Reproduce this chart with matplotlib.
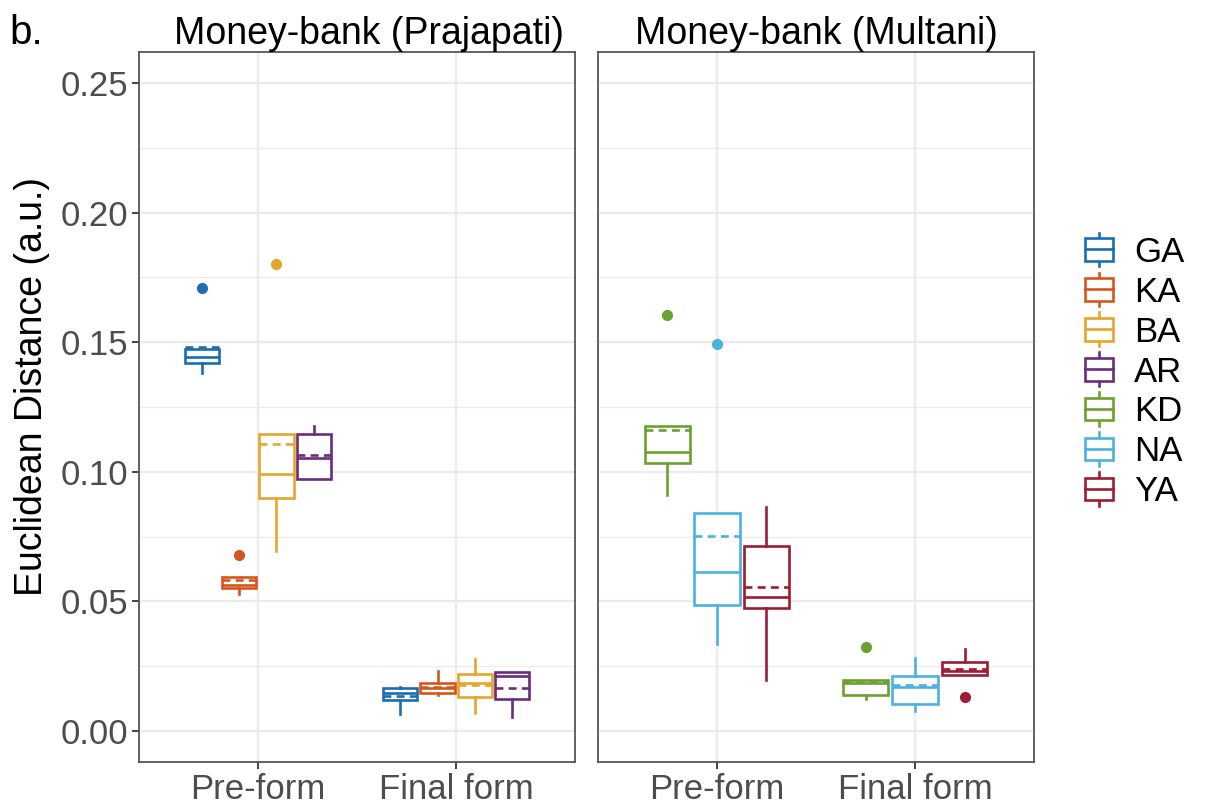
import matplotlib
matplotlib.use("Agg")
import matplotlib.pyplot as plt
from matplotlib.legend_handler import HandlerBase
from matplotlib.patches import Rectangle
from matplotlib.lines import Line2D
from matplotlib.ticker import MultipleLocator

plt.rcParams['font.family'] = ['Liberation Sans', 'DejaVu Sans']

# ---- data ----
stages = ["Pre-form", "Final form"]

left_groups = ["GA", "KA", "BA", "AR"]
right_groups = ["KD", "NA", "YA"]

colors = {
    "GA": "#1b6db3", "KA": "#d5561c", "BA": "#e4a62b", "AR": "#6b2c7e",
    "KD": "#6ca030", "NA": "#4bb2e0", "YA": "#9c1c33",
}

# (q1, median, q3, whislo, whishi, mean, outliers) per group, per stage
pre_stats = {
    "GA": (0.1418, 0.1444, 0.1473, 0.1380, 0.1473, 0.1483, [0.1711]),
    "KA": (0.0550, 0.0563, 0.0595, 0.0529, 0.0595, 0.0583, [0.0679]),
    "BA": (0.0900, 0.0990, 0.1146, 0.0696, 0.1146, 0.1106, [0.1800]),
    "AR": (0.0972, 0.1052, 0.1146, 0.0972, 0.1178, 0.1065, []),
    "KD": (0.1035, 0.1078, 0.1177, 0.0910, 0.1177, 0.1161, [0.1605]),
    "NA": (0.0486, 0.0615, 0.0840, 0.0336, 0.0840, 0.0752, [0.1492]),
    "YA": (0.0476, 0.0518, 0.0715, 0.0197, 0.0865, 0.0557, []),
}
final_stats = {
    "GA": (0.0120, 0.0147, 0.0165, 0.0066, 0.0171, 0.0135, []),
    "KA": (0.0145, 0.0166, 0.0186, 0.0139, 0.0231, 0.0170, []),
    "BA": (0.0132, 0.0184, 0.0219, 0.0068, 0.0278, 0.0178, []),
    "AR": (0.0123, 0.0210, 0.0229, 0.0053, 0.0229, 0.0167, []),
    "KD": (0.0139, 0.0186, 0.0197, 0.0123, 0.0197, 0.0187, [0.0323]),
    "NA": (0.0104, 0.0171, 0.0212, 0.0078, 0.0283, 0.0177, []),
    "YA": (0.0216, 0.0233, 0.0264, 0.0216, 0.0315, 0.0240, [0.0130]),
}

panel_titles = ["Money-bank (Prajapati)", "Money-bank (Multani)"]
y_ticks = [0.00, 0.05, 0.10, 0.15, 0.20, 0.25]


def make_stats(s):
    q1, med, q3, lo, hi, mean, fl = s
    return dict(q1=q1, med=med, q3=q3, whislo=lo, whishi=hi, mean=mean, fliers=fl)


def draw_panel(ax, groups, title, title_x=0.5):
    n = len(groups)
    slot = 0.75 / n
    for i, g in enumerate(groups):
        c = colors[g]
        offset = -0.375 + slot * (i + 0.5)
        for k, st in enumerate([pre_stats, final_stats]):
            pos = k + 1 + offset
            ax.bxp([make_stats(st[g])], positions=[pos], widths=slot * 0.92,
                   showmeans=True, meanline=True, showcaps=False, patch_artist=True,
                   boxprops=dict(facecolor="white", edgecolor=c, linewidth=1.9),
                   medianprops=dict(color=c, linewidth=1.9),
                   whiskerprops=dict(color=c, linewidth=1.9),
                   meanprops=dict(color=c, linewidth=1.9, linestyle=(0, (3, 2))),
                   flierprops=dict(marker="o", markerfacecolor=c, markeredgecolor=c,
                                   markersize=7),
                   zorder=3)
    ax.set_xlim(0.4, 2.6)
    ax.set_ylim(-0.012, 0.262)
    ax.set_xticks([1, 2])
    ax.set_xticklabels(stages)
    ax.yaxis.set_major_locator(MultipleLocator(0.05))
    ax.yaxis.set_minor_locator(MultipleLocator(0.025))
    ax.grid(which="major", color="#ebebeb", linewidth=1.6, zorder=0)
    ax.grid(which="minor", axis="y", color="#ebebeb", linewidth=0.9, zorder=0)
    ax.set_axisbelow(True)
    for sp in ax.spines.values():
        sp.set_color("#555555")
        sp.set_linewidth(1.3)
    ax.tick_params(axis="both", which="major", colors="#333333", labelcolor="#4d4d4d",
                   labelsize=25, length=5, width=1.3, pad=3)
    ax.tick_params(axis="y", which="minor", length=0)
    ax.set_title(title, fontsize=27, pad=5, x=title_x)


class BoxHandler(HandlerBase):
    def create_artists(self, legend, orig_handle, xdescent, ydescent, width, height,
                       fontsize, trans):
        c = orig_handle.get_color()
        bw = width * 0.85
        x0 = -xdescent + (width - bw) / 2
        y0 = -ydescent
        rect = Rectangle((x0, y0), bw, height, facecolor="white",
                         edgecolor=c, linewidth=1.9, transform=trans)
        mid = Line2D([x0, x0 + bw], [y0 + height * 0.5] * 2, color=c, lw=1.9,
                     transform=trans)
        cx = x0 + bw / 2
        top = Line2D([cx, cx], [y0 + height, y0 + height * 1.25], color=c,
                     lw=1.9, transform=trans)
        bot = Line2D([cx, cx], [y0, y0 - height * 0.25], color=c,
                     lw=1.9, transform=trans)
        return [top, bot, rect, mid]


fig = plt.figure(figsize=(12.06, 8.10), dpi=100)
ax1 = fig.add_axes([139 / 1206, 1 - 762 / 810, 436 / 1206, 710 / 810])
ax2 = fig.add_axes([598 / 1206, 1 - 762 / 810, 436 / 1206, 710 / 810])

draw_panel(ax1, left_groups, panel_titles[0], title_x=0.5 + 12 / 436)
draw_panel(ax2, right_groups, panel_titles[1])
ax1.set_yticks(y_ticks)
ax1.set_yticklabels(["%.2f" % v for v in y_ticks])
ax2.set_yticks(y_ticks)
ax2.tick_params(axis="y", which="major", length=0, labelleft=False)

fig.text(32 / 1206, 1 - 386 / 810, "Euclidean Distance (a.u.)", rotation=90,
         ha="center", va="center", fontsize=27)
fig.text(9 / 1206, 1 - 33 / 810, "b.", ha="left", va="center", fontsize=29)

handles = [Line2D([], [], color=colors[g]) for g in left_groups + right_groups]
fig.legend(handles, left_groups + right_groups, handler_map={Line2D: BoxHandler()},
           loc="center left", bbox_to_anchor=(1083 / 1206, 1 - 372 / 810),
           frameon=False, fontsize=25, handlelength=0.93, handleheight=0.62,
           labelspacing=0.2, handletextpad=0.55, borderaxespad=0, borderpad=0)

fig.savefig("out.png", dpi=100)
